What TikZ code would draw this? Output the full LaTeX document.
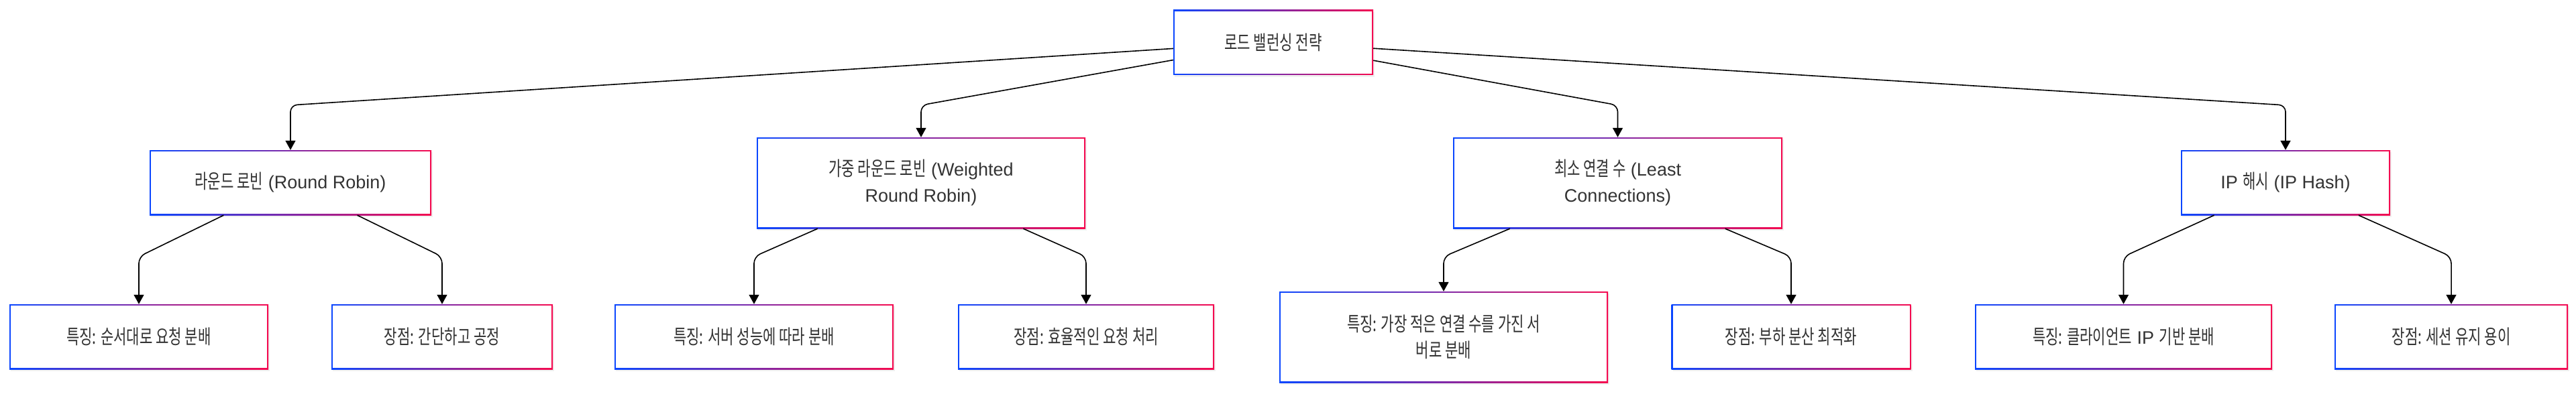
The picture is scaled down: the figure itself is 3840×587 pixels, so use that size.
\documentclass[tikz,border=0pt]{standalone}
\usepackage{fontspec}
\setmainfont{Liberation Sans}
\newfontfamily\krfont[Scale=1.1, FakeStretch=0.71]{Noto Sans CJK KR}
\usetikzlibrary{arrows.meta, shadows, positioning}
\definecolor{boxblue}{RGB}{10,70,255}
\definecolor{boxred}{RGB}{245,10,80}
\definecolor{boxtext}{RGB}{51,51,51}

\begin{document}
\begin{tikzpicture}[x=1pt, y=-1pt,
            strat/.style={rectangle, left color=boxblue, right color=boxred,
                    minimum height=97pt, inner sep=0pt, align=center, text=boxtext,
                    font=\fontsize{27}{39}\selectfont,
                    drop shadow={shadow xshift=2pt, shadow yshift=-3pt, opacity=0.12},
                    path picture={\fill[white]
                        ([shift={(2pt,-2pt)}]path picture bounding box.north west) rectangle
                        ([shift={(-2pt,2pt)}]path picture bounding box.south east);},
                },
            tall/.style={minimum height=136pt},
            link/.style={draw, line width=1.6pt, rounded corners=10pt,
                    -{Triangle[width=15pt, length=14pt]}},
        ]
        \useasboundingbox (0,0) rectangle (3840,587);

        % root
        \node[strat, minimum width=298pt] (root) at (1898,63) {\krfont 로드 밸런싱 전략};

        % strategies
        \node[strat, minimum width=420pt] (rr) at (433,272.5) {{\krfont 라운드 로빈} (Round Robin)};
        \node[strat, tall, minimum width=490pt] (wrr) at (1373,273) {{\krfont 가중 라운드 로빈} (Weighted\\Round Robin)};
        \node[strat, tall, minimum width=491pt] (lc) at (2411.5,273) {{\krfont 최소 연결 수} (Least\\Connections)};
        \node[strat, minimum width=312pt] (iph) at (3407,272.5) {IP {\krfont 해시} (IP Hash)};

        % details
        \node[strat, minimum width=386pt] (rr1) at (207,502.5) {\krfont 특징: 순서대로 요청 분배};
        \node[strat, minimum width=330pt] (rr2) at (659,502.5) {\krfont 장점: 간단하고 공정};
        \node[strat, minimum width=416pt] (wrr1) at (1124,502.5) {\krfont 특징: 서버 성능에 따라 분배};
        \node[strat, minimum width=382pt] (wrr2) at (1619,502.5) {\krfont 장점: 효율적인 요청 처리};
        \node[strat, tall, minimum width=490pt] (lc1) at (2152,503) {\krfont 특징: 가장 적은 연결 수를 가진 서\\\krfont 버로 분배};
        \node[strat, minimum width=357pt] (lc2) at (2670,502.5) {\krfont 장점: 부하 분산 최적화};
        \node[strat, minimum width=443pt] (iph1) at (3165.5,502.5) {{\krfont 특징: 클라이언트} IP {\krfont 기반 분배}};
        \node[strat, minimum width=348pt] (iph2) at (3654,502.5) {\krfont 장점: 세션 유지 용이};

        % bends
        \coordinate (rrk) at (433,157);
        \coordinate (wrrk) at (1373,157);
        \coordinate (lck) at (2411.5,157);
        \coordinate (iphk) at (3407,157);
        \coordinate (rr1k) at (207,383);
        \coordinate (rr2k) at (659,383);
        \coordinate (wrr1k) at (1124,383);
        \coordinate (wrr2k) at (1619,383);
        \coordinate (lc1k) at (2152,383);
        \coordinate (lc2k) at (2670,383);
        \coordinate (iph1k) at (3165.5,383);
        \coordinate (iph2k) at (3654,383);

        \draw[link] (root) -- (rrk) -- (rr);
        \draw[link] (root) -- (wrrk) -- (wrr);
        \draw[link] (root) -- (lck) -- (lc);
        \draw[link] (root) -- (iphk) -- (iph);

        \draw[link] (rr) -- (rr1k) -- (rr1);
        \draw[link] (rr) -- (rr2k) -- (rr2);
        \draw[link] (wrr) -- (wrr1k) -- (wrr1);
        \draw[link] (wrr) -- (wrr2k) -- (wrr2);
        \draw[link] (lc) -- (lc1k) -- (lc1);
        \draw[link] (lc) -- (lc2k) -- (lc2);
        \draw[link] (iph) -- (iph1k) -- (iph1);
        \draw[link] (iph) -- (iph2k) -- (iph2);

    \end{tikzpicture}
\end{document}
